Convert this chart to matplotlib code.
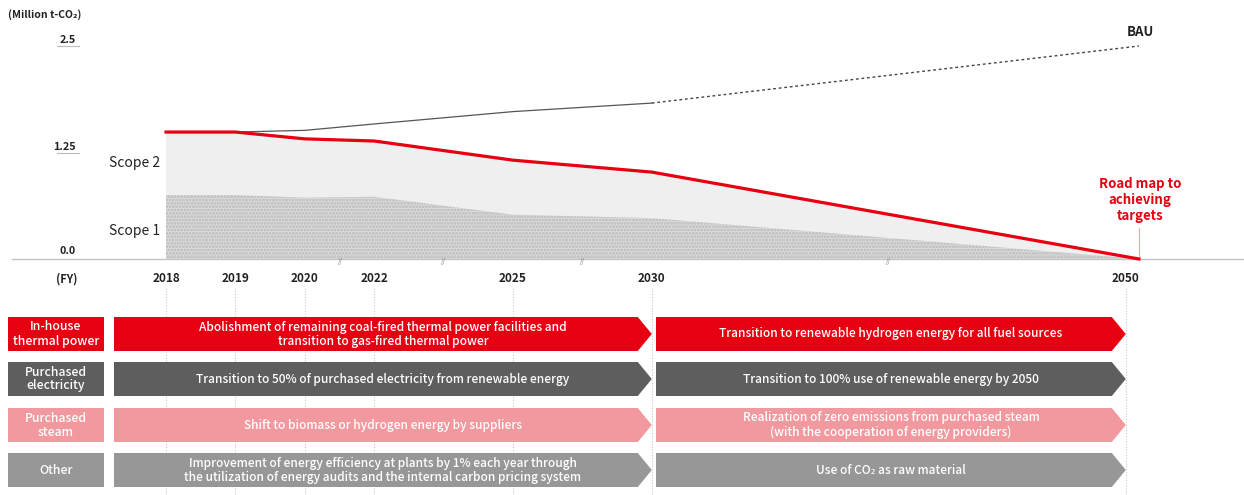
import matplotlib.pyplot as plt
from matplotlib.patches import Polygon, Rectangle

# Emission path (million t-CO2), scope 1 + scope 2
years = ['2018', '2019', '2020', '2022', '2025', '2030', '2050']
total = [1.49, 1.49, 1.41, 1.385, 1.16, 1.02, 0.0]
scope1 = [0.75, 0.75, 0.72, 0.73, 0.52, 0.48, 0.0]

# Business-as-usual path
bau_years = ['2019', '2020', '2022', '2025', '2030', '2050']
bau = [1.49, 1.51, 1.585, 1.73, 1.83, 2.50]

ytick_vals = [0.0, 1.25, 2.5]
ytick_labels = ['0.0', '1.25', '2.5']

categories = ['In-house\nthermal power', 'Purchased\nelectricity', 'Purchased\nsteam', 'Other']
actions_2030 = [
    'Abolishment of remaining coal-fired thermal power facilities and\ntransition to gas-fired thermal power',
    'Transition to 50% of purchased electricity from renewable energy',
    'Shift to biomass or hydrogen energy by suppliers',
    'Improvement of energy efficiency at plants by 1% each year through\nthe utilization of energy audits and the internal carbon pricing system',
]
actions_2050 = [
    'Transition to renewable hydrogen energy for all fuel sources',
    'Transition to 100% use of renewable energy by 2050',
    'Realization of zero emissions from purchased steam\n(with the cooperation of energy providers)',
    'Use of CO\u2082 as raw material',
]
row_colors = ['#e60012', '#5e5e5e', '#f2999f', '#979797']

# compressed time axis: one unit per year up to 2022, with breaks afterwards
axis_pos = {'2018': 0, '2019': 1, '2020': 2, '2022': 3, '2025': 5, '2030': 7, '2050': 13.83}
line_end_2050 = 14.02

RED = '#e60012'
FONT = ['Noto Sans CJK JP', 'DejaVu Sans']
plt.rcParams['font.family'] = FONT
plt.rcParams['hatch.linewidth'] = 1.4

W, H = 1244, 495
X0, UX = 166, 69.4      # pixel of 2018, pixels per axis unit
Y0, UY = 259, 85.2      # pixel of zero line, pixels per million t


def px(x):
    return (x - X0) / UX


def py(y):
    return (Y0 - y) / UY


def xs_for(labels):
    return [line_end_2050 if y == '2050' else axis_pos[y] for y in labels]


fig = plt.figure(figsize=(W / 100, H / 100), dpi=100)
ax = fig.add_axes([0, 0, 1, 1])
ax.set_xlim(px(0), px(W))
ax.set_ylim(py(H), py(0))
ax.axis('off')

# stacked areas
x = xs_for(years)
ax.fill_between(x, 0, total, facecolor='#efefef', linewidth=0, zorder=1)
ax.fill_between(x, 0, scope1, facecolor='#dcdcdc', edgecolor='#b8b8b8',
                hatch='.....', linewidth=0, zorder=2)

# BAU: actual trend to 2030, projection to 2050
bx = xs_for(bau_years)
ax.plot(bx[:-1], bau[:-1], color='#555555', lw=0.9, zorder=3)
ax.plot(bx[-2:], bau[-2:], color='#444444', lw=1.0, ls=(0, (2, 2)), zorder=3)

# road map line
ax.plot(x, total, color=RED, lw=2.3, solid_joinstyle='round', zorder=4)

# zero line with break marks
ax.plot([px(12), px(1244)], [0, 0], color='#c4c4c4', lw=1.0, zorder=3)
for bxp in [340, 443, 582, 888]:
    ax.text(px(bxp), py(262), '//', fontsize=4.5, color='#777777',
            ha='center', va='center', zorder=5)

# y tick labels with short underlines
for v, lab in zip(ytick_vals, ytick_labels):
    if v == 0:
        ax.text(px(76), py(251), lab, fontsize=7.8, fontweight='bold',
                ha='right', va='center', color='#222222')
    else:
        ax.text(px(76), v + 6 / UY, lab, fontsize=7.8, fontweight='bold',
                ha='right', va='center', color='#222222')
        ax.plot([px(57), px(79)], [v, v], color='#bbbbbb', lw=0.8)

ax.text(px(8), py(15), '(Million t-CO\u2082)', fontsize=7.5, fontweight='bold',
        ha='left', va='center', color='#222222')
ax.text(px(67), py(279), '(FY)', fontsize=8, fontweight='bold',
        ha='center', va='center', color='#222222')

# year labels and dotted guides
for yr in years:
    xp = axis_pos[yr]
    ax.text(xp, py(279), yr, fontsize=8.5, fontweight='bold',
            ha='center', va='center', color='#222222')
    ax.plot([xp, xp], [py(288), py(H)], color='#c8c8c8', lw=0.8,
            ls=(0, (1, 1.5)), zorder=0)

ax.text(px(135), py(163), 'Scope 2', fontsize=10, ha='center', va='center', color='#222222')
ax.text(px(135), py(231), 'Scope 1', fontsize=10, ha='center', va='center', color='#222222')
ax.text(px(1140), py(32), 'BAU', fontsize=9.5, fontweight='bold',
        ha='center', va='center', color='#222222')
ax.text(px(1140), py(200), 'Road map to\nachieving\ntargets', fontsize=9.5,
        fontweight='bold', ha='center', va='center', color=RED, linespacing=1.15)
ax.plot([line_end_2050, line_end_2050], [py(228), 0], color='#f7a9ad', lw=0.9, zorder=3)

# road map rows
row_top = [317, 362, 408, 453]
row_h = 34
tip = 14 / UX
for top, cat, a1, a2, col in zip(row_top, categories, actions_2030, actions_2050, row_colors):
    y_lo, y_hi = py(top + row_h), py(top)
    y_mid = (y_lo + y_hi) / 2
    ax.add_patch(Rectangle((px(8), y_lo), px(104) - px(8), y_hi - y_lo,
                           facecolor=col, edgecolor='none', zorder=3))
    ax.text((px(8) + px(104)) / 2, y_mid, cat, fontsize=8.8, fontweight='medium',
            color='white', ha='center', va='center', linespacing=1.1, zorder=4)
    for x_start, x_tip, txt in [(px(114), axis_pos['2030'], a1),
                                (px(656), axis_pos['2050'], a2)]:
        poly = [(x_start, y_lo), (x_tip - tip, y_lo), (x_tip, y_mid),
                (x_tip - tip, y_hi), (x_start, y_hi)]
        ax.add_patch(Polygon(poly, closed=True, facecolor=col, edgecolor='none', zorder=3))
        ax.text((x_start + x_tip) / 2, y_mid, txt, fontsize=8.6, fontweight='medium',
                color='white', ha='center', va='center', linespacing=1.1, zorder=4)

fig.savefig('out.png', dpi=100)
